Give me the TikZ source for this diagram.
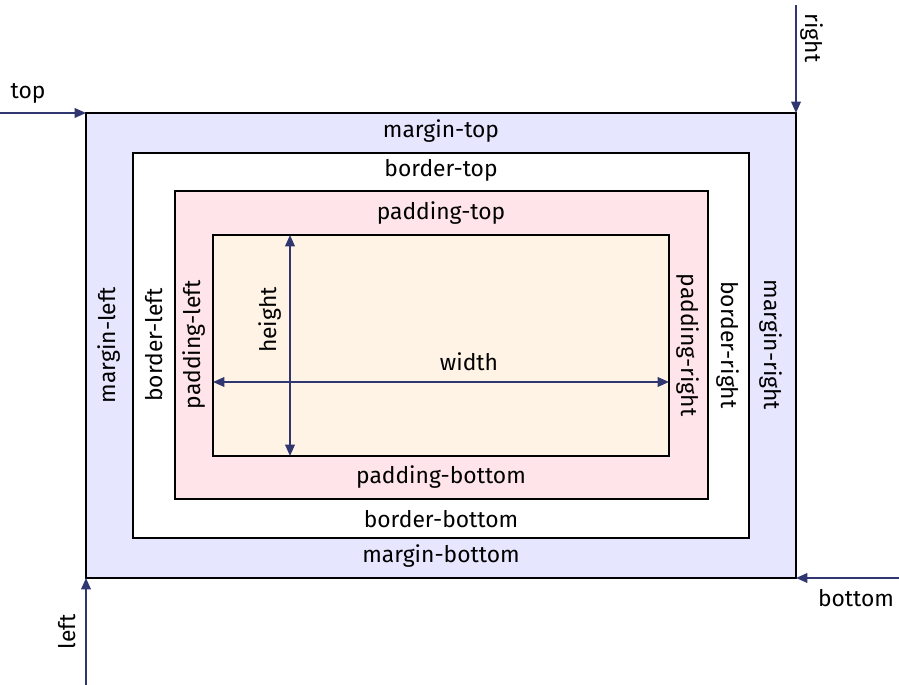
\documentclass[tikz,border=0pt]{standalone}
\usepackage{fontspec}
\setmainfont{Fira Sans}
\usetikzlibrary{arrows.meta}

\definecolor{marginfill}{HTML}{E6E6FF}
\definecolor{paddingfill}{HTML}{FFE4E9}
\definecolor{contentfill}{HTML}{FFF3E6}
\definecolor{arrowblue}{HTML}{30366F}

\tikzset{
	box/.style={draw=black, line width=0.6pt},
	lbl/.style={font=\fontsize{13}{15}\selectfont, text=black, inner sep=1pt},
	pointer/.style={draw=arrowblue, line width=0.9pt, -{Triangle[length=6.5pt, width=5.5pt]}},
	measure/.style={draw=arrowblue, line width=0.9pt, {Triangle[length=6.5pt, width=5.5pt]}-{Triangle[length=6.5pt, width=5.5pt]}}
}

\begin{document}
\begin{tikzpicture}[x=0.02cm, y=-0.02cm]
	\useasboundingbox (0,0) rectangle (899,685);

	% nested boxes, outside in
	\draw[box, fill=marginfill] (86,113) coordinate (mtl) rectangle (796,578) coordinate (mbr);
	\draw[box, fill=white] (133,153) rectangle (749,538);
	\draw[box, fill=paddingfill] (175,191) rectangle (708,499);
	\draw[box, fill=contentfill] (213,235) coordinate (ctl) rectangle (669,456) coordinate (cbr);

	\coordinate (mtr) at (796,113);
	\coordinate (mbl) at (86,578);

	% labels along the top and bottom
	\path (441,131) node[lbl] (mtop) {margin-top};
	\path (441,170) node[lbl] (btop) {border-top};
	\path (441,213) node[lbl] (ptop) {padding-top};
	\path (441,477) node[lbl] (pbot) {padding-bottom};
	\path (441,519) node[lbl] (bbot) {border-bottom};
	\path (441,556) node[lbl] (mbot) {margin-bottom};

	% labels along the sides
	\path (109,345) node[lbl, rotate=90] (mleft) {margin-left};
	\path (154,345) node[lbl, rotate=90] (bleft) {border-left};
	\path (194,345) node[lbl, rotate=90] (pleft) {padding-left};
	\path (688,345) node[lbl, rotate=-90] (pright) {padding-right};
	\path (728,345) node[lbl, rotate=-90] (bright) {border-right};
	\path (771,345) node[lbl, rotate=-90] (mright) {margin-right};

	% width and height of the content
	\coordinate (wl) at (213,382);
	\coordinate (wr) at (669,382);
	\coordinate (ht) at (290,235);
	\coordinate (hb) at (290,456);
	\draw[measure] (wl) -- (wr);
	\draw[measure] (ht) -- (hb);
	\path (469,362) node[lbl] (wid) {width};
	\path (270,320) node[lbl, rotate=90] (hgt) {height};

	% offsets pointing at the outer corners
	\coordinate (topstart) at (0,113);
	\coordinate (rightstart) at (796,5);
	\coordinate (leftstart) at (86,685);
	\coordinate (bottomstart) at (899,578);
	\draw[pointer] (topstart) -- (mtl);
	\draw[pointer] (rightstart) -- (mtr);
	\draw[pointer] (leftstart) -- (mbl);
	\draw[pointer] (bottomstart) -- (mbr);
	\path (28,93) node[lbl] (toplbl) {top};
	\path (812,38) node[lbl, rotate=-90] (rightlbl) {right};
	\path (67,632) node[lbl, rotate=90] (leftlbl) {left};
	\path (856,598) node[lbl] (bottomlbl) {bottom};
\end{tikzpicture}
\end{document}
